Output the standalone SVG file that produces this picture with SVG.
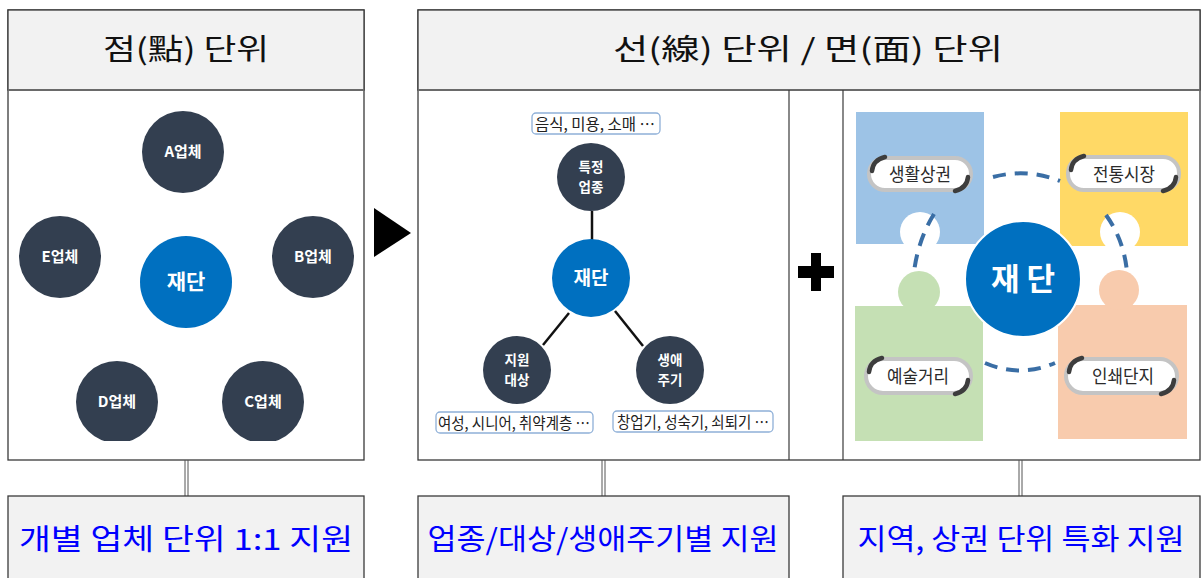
<svg xmlns="http://www.w3.org/2000/svg" width="1202" height="578" viewBox="0 0 1202 578">
<style>
.kr{font-family:"Noto Sans CJK KR","Noto Sans",sans-serif}
.frame{fill:#fff;stroke:#3a3a3a;stroke-width:1.3}
.hdr{fill:#f2f2f2;stroke:#3a3a3a;stroke-width:1.3}
.hline{stroke:#6a6a6a;stroke-width:2}
.sub{stroke:#3a3a3a;stroke-width:1.2}
.htxt{font-size:29px;fill:#111;text-anchor:middle}
.btxt{font-size:29px;fill:#0000ff;text-anchor:middle}
.dark{fill:#333f50}
.blue{fill:#0070c0}
.ctxt{font-size:15px;fill:#fff;text-anchor:middle;font-weight:bold}
.c2txt{font-size:13.5px;fill:#fff;text-anchor:middle;font-weight:bold}
.jtxt{fill:#fff;text-anchor:middle;font-weight:bold}
.tag{fill:#fff;stroke:#8fb0d8;stroke-width:1.3}
.ttxt{font-size:16px;fill:#222;text-anchor:middle}
.link{stroke:#111;stroke-width:2.5}
.dbl{stroke:#555;stroke-width:1}
.dash{fill:none;stroke:#3a6ea5;stroke-width:4;stroke-dasharray:13 9}
.pill{fill:#fff;stroke:#c4c4c4;stroke-width:4}
.brk{fill:none;stroke:#3d3d3d;stroke-width:4.5;stroke-linecap:round}
.ptxt{font-size:18px;fill:#2a2a2a;text-anchor:middle}
</style>
<defs>
<clipPath id="clipL"><rect x="9" y="91" width="354" height="350"/></clipPath>
</defs>

<!-- Left panel -->
<g id="panel-point">
<rect class="frame" x="8" y="10" width="356" height="450"/>
<rect class="hdr" x="8" y="10" width="356" height="80"/>
<line class="hline" x1="8" y1="90" x2="364" y2="90"/>
<text class="kr htxt" x="186" y="60" textLength="166" lengthAdjust="spacingAndGlyphs">점(點) 단위</text>
</g>

<g id="left-nodes" clip-path="url(#clipL)">
<g id="nodeA"><circle class="dark" cx="183" cy="152" r="41"/><text class="kr ctxt" x="183" y="157">A업체</text></g>
<g id="nodeE"><circle class="dark" cx="60" cy="257" r="41"/><text class="kr ctxt" x="60" y="262">E업체</text></g>
<g id="nodeB"><circle class="dark" cx="313" cy="257" r="41"/><text class="kr ctxt" x="313" y="262">B업체</text></g>
<g id="nodeD"><circle class="dark" cx="117" cy="402" r="41"/><text class="kr ctxt" x="117" y="407">D업체</text></g>
<g id="nodeC"><circle class="dark" cx="263" cy="402" r="41"/><text class="kr ctxt" x="263" y="407">C업체</text></g>
<g id="nodeCenterL"><circle class="blue" cx="186" cy="282" r="46"/><text class="kr jtxt" x="186" y="289" font-size="21">재단</text></g>
</g>

<!-- Arrow -->
<g id="arrow"><polygon points="374,208 374,257 411,233" fill="#000"/></g>

<!-- Right panel -->
<g id="panel-line-area">
<rect class="frame" x="418" y="10" width="782" height="450"/>
<rect class="hdr" x="418" y="10" width="782" height="80"/>
<line class="hline" x1="418" y1="90" x2="1200" y2="90"/>
<line class="sub" x1="789" y1="90" x2="789" y2="460"/>
<line class="sub" x1="843" y1="90" x2="843" y2="460"/>
<text class="kr htxt" x="808" y="60" textLength="390" lengthAdjust="spacingAndGlyphs">선(線) 단위 / 면(面) 단위</text>
</g>

<!-- Plus -->
<g id="plus" fill="#000">
<rect x="811" y="253" width="10" height="38"/>
<rect x="798" y="266" width="36" height="12"/>
</g>

<!-- Connectors -->
<g id="connectors">
<line class="link" x1="592" y1="211" x2="592" y2="240"/>
<line class="link" x1="569" y1="313" x2="543" y2="345"/>
<line class="link" x1="615" y1="311" x2="643" y2="346"/>
<line class="dbl" x1="185" y1="460" x2="185" y2="496"/>
<line class="dbl" x1="188" y1="460" x2="188" y2="496"/>
<line class="dbl" x1="602" y1="460" x2="602" y2="496"/>
<line class="dbl" x1="605" y1="460" x2="605" y2="496"/>
<line class="dbl" x1="1019" y1="460" x2="1019" y2="496"/>
<line class="dbl" x1="1022" y1="460" x2="1022" y2="496"/>
</g>

<g id="tag-industry"><rect class="tag" x="532" y="113" width="128" height="21" rx="4"/><text class="kr ttxt" x="595" y="129.5" textLength="120" lengthAdjust="spacingAndGlyphs">음식, 미용, 소매 …</text></g>
<g id="node-industry"><circle class="dark" cx="591" cy="177" r="34"/><text class="kr c2txt" x="591" y="172">특정</text><text class="kr c2txt" x="591" y="192">업종</text></g>
<g id="node-center-mid"><circle class="blue" cx="591" cy="278" r="39"/><text class="kr jtxt" x="591" y="285" font-size="19">재단</text></g>
<g id="node-target"><circle class="dark" cx="517" cy="370" r="34"/><text class="kr c2txt" x="517" y="365">지원</text><text class="kr c2txt" x="517" y="385">대상</text></g>
<g id="node-life"><circle class="dark" cx="670" cy="370" r="34"/><text class="kr c2txt" x="670" y="365">생애</text><text class="kr c2txt" x="670" y="385">주기</text></g>
<g id="tag-target"><rect class="tag" x="436" y="412" width="157" height="21" rx="4"/><text class="kr ttxt" x="514" y="428.5" textLength="152" lengthAdjust="spacingAndGlyphs">여성, 시니어, 취약계층 …</text></g>
<g id="tag-life"><rect class="tag" x="613" y="411" width="160" height="21" rx="4"/><text class="kr ttxt" x="693" y="427.5" textLength="152" lengthAdjust="spacingAndGlyphs">창업기, 성숙기, 쇠퇴기 …</text></g>

<!-- Puzzle area -->
<g id="puzzle">
<rect x="856" y="112" width="128" height="132" fill="#9dc3e6"/>
<rect x="1060" y="112" width="128" height="134" fill="#ffd966"/>
<rect x="855" y="306" width="128" height="135" fill="#c5e0b4"/>
<rect x="1058" y="305" width="129" height="134" fill="#f8cbad"/>
<circle cx="920" cy="232" r="20" fill="#fff"/>
<circle cx="919" cy="292" r="21" fill="#c5e0b4"/>
<circle cx="1120" cy="232" r="20" fill="#fff"/>
<circle cx="1119" cy="290" r="20" fill="#f8cbad"/>
<path class="dash" d="M993 177 Q1027 168 1060 181"/>
<path class="dash" d="M934 214 Q918 240 914 272"/>
<path class="dash" d="M1106 215 Q1124 240 1127 272"/>
<path class="dash" d="M985 363 Q1020 378 1055 363"/>
</g>

<g id="node-center-right"><circle class="blue" cx="1023" cy="279" r="58" stroke="#fff" stroke-width="2"/><text class="kr jtxt" x="1023" y="290" font-size="31">재 단</text></g>

<g id="pill-1">
<rect class="pill" x="869" y="158" width="102" height="32" rx="16"/>
<path class="brk" d="M872 171 Q873 160 885 157"/><path class="brk" d="M968 177 Q967 188 955 191"/>
<text class="kr ptxt" x="920" y="181" textLength="62" lengthAdjust="spacingAndGlyphs">생활상권</text>
</g>
<g id="pill-2">
<rect class="pill" x="1068" y="157" width="111" height="33" rx="16"/>
<path class="brk" d="M1071 170 Q1072 159 1084 156"/><path class="brk" d="M1176 177 Q1175 188 1163 191"/>
<text class="kr ptxt" x="1124" y="181" textLength="62" lengthAdjust="spacingAndGlyphs">전통시장</text>
</g>
<g id="pill-3">
<rect class="pill" x="866" y="359" width="105" height="34" rx="17"/>
<path class="brk" d="M869 372 Q870 361 882 358"/><path class="brk" d="M968 380 Q967 391 955 394"/>
<text class="kr ptxt" x="918" y="383" textLength="62" lengthAdjust="spacingAndGlyphs">예술거리</text>
</g>
<g id="pill-4">
<rect class="pill" x="1066" y="359" width="111" height="34" rx="17"/>
<path class="brk" d="M1069 372 Q1070 361 1082 358"/><path class="brk" d="M1174 380 Q1173 391 1161 394"/>
<text class="kr ptxt" x="1123" y="383" textLength="62" lengthAdjust="spacingAndGlyphs">인쇄단지</text>
</g>

<!-- Bottom boxes -->
<g id="result-1"><rect class="hdr" x="8" y="496" width="356" height="90"/><text class="kr btxt" x="186" y="550" textLength="334" lengthAdjust="spacingAndGlyphs">개별 업체 단위 1:1 지원</text></g>
<g id="result-2"><rect class="hdr" x="418" y="496" width="371" height="90"/><text class="kr btxt" x="603" y="550" textLength="351" lengthAdjust="spacingAndGlyphs">업종/대상/생애주기별 지원</text></g>
<g id="result-3"><rect class="hdr" x="843" y="496" width="357" height="90"/><text class="kr btxt" x="1021" y="550" textLength="327" lengthAdjust="spacingAndGlyphs">지역, 상권 단위 특화 지원</text></g>
</svg>
